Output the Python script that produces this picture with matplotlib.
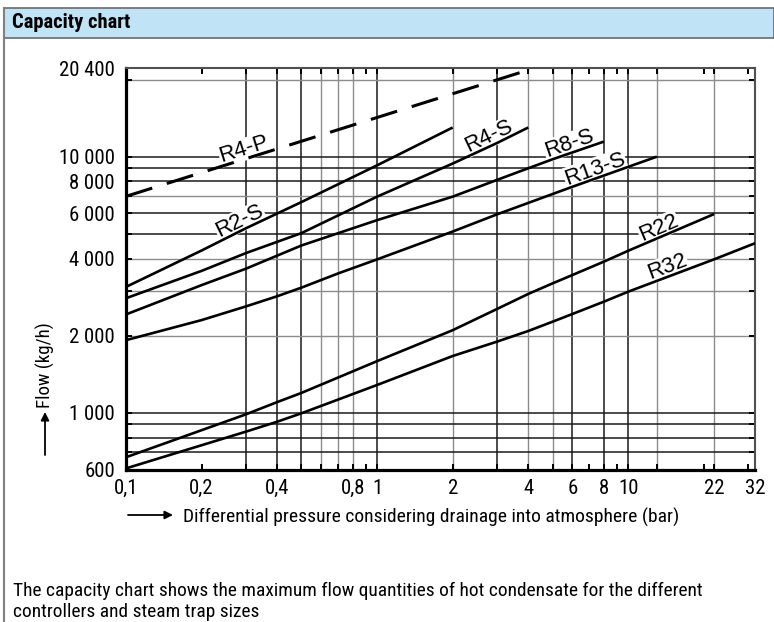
import numpy as np
import matplotlib
matplotlib.use('Agg')
import matplotlib.pyplot as plt
from matplotlib import font_manager
from matplotlib.ticker import FixedLocator, FixedFormatter, NullFormatter
from matplotlib.patches import Rectangle
from matplotlib.lines import Line2D

# ---------------- data ----------------
R4P_X = [0.1, 4]
R4P_Y = [7000, 21800]

R2S_X = [0.1, 0.2, 0.3, 0.5, 1, 2]
R2S_Y = [3100, 4300, 5250, 6650, 9250, 13000]

R4S_X = [0.1, 0.2, 0.3, 0.5, 1, 2, 3, 4]
R4S_Y = [2800, 3580, 4200, 5030, 6980, 9400, 11300, 13000]

R8S_X = [0.1, 0.2, 0.3, 0.5, 1, 2, 3, 4, 5, 8]
R8S_Y = [2420, 3150, 3650, 4500, 5650, 6980, 8110, 9010, 9770, 11450]

R13S_X = [0.1, 0.2, 0.3, 0.4, 0.5, 0.7, 1, 2, 3, 6, 13]
R13S_Y = [1920, 2300, 2600, 2850, 3080, 3500, 3970, 5100, 5950, 7630, 10000]

R22_X = [0.1, 0.3, 0.4, 0.5, 1, 2, 3, 4, 5, 6, 8, 10, 22]
R22_Y = [670, 985, 1100, 1195, 1590, 2100, 2540, 2910, 3200, 3450, 3890, 4290, 5970]

R32_X = [0.1, 0.3, 0.4, 0.5, 1, 2, 3, 4, 5, 6, 8, 10, 22, 32]
R32_Y = [606, 843, 922, 995, 1283, 1665, 1894, 2085, 2267, 2430, 2714, 2969, 3973, 4590]

LABELS = ["R4-P", "R2-S", "R4-S", "R8-S", "R13-S", "R22", "R32"]
LABEL_X = [0.3, 0.29, 2.85, 5.9, 7.5, 13.5, 14.6]

X_MIN, X_MAX = 0.1, 32
Y_MIN, Y_TOP = 600, 22140

X_TICKS = [0.1, 0.2, 0.4, 0.8, 1, 2, 4, 6, 8, 10, 22, 32]
X_TICK_LABELS = ["0,1", "0,2", "0,4", "0,8", "1", "2", "4", "6", "8", "10", "22", "32"]
X_MINOR = [0.3, 0.5, 0.6, 0.7, 0.9, 3, 5, 7, 9, 13, 20, 30]

Y_TICKS = [600, 1000, 2000, 4000, 6000, 8000, 10000, Y_TOP]
Y_TICK_LABELS = ["600", "1 000", "2 000", "4 000", "6 000", "8 000", "10 000", "20 400"]
Y_MINOR = [700, 800, 900, 3000, 5000, 7000, 9000, 20000]

GRID_X_DARK = [0.3, 0.4, 0.5, 1, 3, 6, 8, 10]
GRID_X_GRAY = [0.6, 0.7, 0.8, 2, 4, 5, 13, 22]
GRID_Y_DARK = [700, 800, 900, 1000, 5000, 6000, 8000, 9000, 10000]
GRID_Y_GRAY = [2000, 3000, 4000, 7000, 20000]

TITLE = "Capacity chart"
X_LABEL = "Differential pressure considering drainage into atmosphere (bar)"
Y_LABEL = "Flow (kg/h)"
NOTE_1 = "The capacity chart shows the maximum flow quantities of hot condensate for the different"
NOTE_2 = "controllers and steam trap sizes"

# ---------------- fonts ----------------
_installed = {f.name for f in font_manager.fontManager.ttflist}
_narrow_pref = ['Liberation Sans Narrow', 'Arial Narrow', 'Roboto Condensed',
                'Archivo Narrow', 'Open Sans Condensed', 'PT Sans Narrow']
NARROW = [n for n in _narrow_pref if n in _installed][:1] + ['Liberation Sans', 'DejaVu Sans']
FONT = ['Liberation Sans', 'DejaVu Sans']

# ---------------- figure ----------------
W, H = 774, 622
fig = plt.figure(figsize=(W / 100, H / 100), dpi=100)
renderer = fig.canvas.get_renderer()


def fx(px):
    return px / W


def fy(py):
    return 1 - py / H


def fit(t, target, vertical=False):
    bb = t.get_window_extent(renderer)
    size = bb.height if vertical else bb.width
    t.set_fontsize(t.get_fontsize() * target / size)


# outer frame and title bar
fig.add_artist(Line2D([fx(4), fx(4)], [fy(8), fy(622)], color='#808080', lw=1.5))
fig.add_artist(Rectangle((fx(4), fy(38)), fx(774) - fx(4), fy(8) - fy(38),
                         facecolor='#C0E4F6', edgecolor='#6a6a6a', lw=1.2))
t_title = fig.text(fx(12), fy(23), TITLE, fontsize=14, fontweight='bold', family=NARROW,
                   va='center', ha='left')
fit(t_title, 119)

ax = fig.add_axes([fx(126), fy(469.5), fx(755) - fx(126), fy(68.3) - fy(469.5)])
ax.set_xscale('log')
ax.set_yscale('log')
ax.set_xlim(X_MIN, X_MAX)
ax.set_ylim(Y_MIN, Y_TOP)

for v in GRID_X_DARK:
    ax.axvline(v, color='#1a1a1a', lw=1.1, zorder=1)
for v in GRID_X_GRAY:
    ax.axvline(v, color='#8c8c8c', lw=1.0, zorder=1)
for v in GRID_Y_DARK:
    ax.axhline(v, color='#1a1a1a', lw=1.1, zorder=1)
for v in GRID_Y_GRAY:
    ax.axhline(v, color='#8c8c8c', lw=1.0, zorder=1)

ax.plot(R4P_X, R4P_Y, color='black', lw=2.2, dashes=(9, 5), solid_capstyle='butt',
        dash_capstyle='butt', zorder=3)
curves = [(R2S_X, R2S_Y), (R4S_X, R4S_Y), (R8S_X, R8S_Y), (R13S_X, R13S_Y),
          (R22_X, R22_Y), (R32_X, R32_Y)]
for xs, ys in curves:
    ax.plot(xs, ys, color='black', lw=1.9, zorder=3, solid_capstyle='butt',
            solid_joinstyle='round')

# ticks
ax.xaxis.set_major_locator(FixedLocator(X_TICKS))
ax.xaxis.set_major_formatter(FixedFormatter(X_TICK_LABELS))
ax.xaxis.set_minor_locator(FixedLocator(X_MINOR))
ax.xaxis.set_minor_formatter(NullFormatter())
ax.yaxis.set_major_locator(FixedLocator(Y_TICKS))
ax.yaxis.set_major_formatter(FixedFormatter(Y_TICK_LABELS))
ax.yaxis.set_minor_locator(FixedLocator(Y_MINOR))
ax.yaxis.set_minor_formatter(NullFormatter())
ax.tick_params(which='both', direction='in', top=True, right=True, length=4, width=1.4,
               color='black')

# tick label size: fit "20 400" to its width in the reference
_probe = fig.text(0, 0, Y_TICK_LABELS[-1], fontsize=15, family=NARROW)
fit(_probe, 56)
TICK_FS = _probe.get_fontsize()
_probe.remove()

ax.tick_params(axis='x', which='major', pad=7, labelsize=TICK_FS)
ax.tick_params(axis='y', which='major', pad=8, labelsize=TICK_FS)
for lab in ax.get_xticklabels() + ax.get_yticklabels():
    lab.set_family(NARROW)

for s in ['left', 'bottom']:
    ax.spines[s].set_linewidth(2.3)
    ax.spines[s].set_color('black')
for s in ['top', 'right']:
    ax.spines[s].set_linewidth(1.5)
    ax.spines[s].set_color('#505050')

# curve labels
all_curves = [(R4P_X, R4P_Y)] + curves
for (xs, ys), text, xl in zip(all_curves, LABELS, LABEL_X):
    lx = np.log10(xs)
    ly = np.log10(ys)
    x0 = np.log10(xl)
    xa, xb = 10 ** (x0 - 0.08), 10 ** (x0 + 0.08)
    ya = 10 ** np.interp(np.log10(xa), lx, ly)
    yb = 10 ** np.interp(np.log10(xb), lx, ly)
    p = ax.transData.transform([(xa, ya), (xb, yb)])
    ang = np.degrees(np.arctan2(p[1, 1] - p[0, 1], p[1, 0] - p[0, 0]))
    yl = 10 ** np.interp(x0, lx, ly)
    ax.annotate(text, (xl, yl), xytext=(0, 3), textcoords='offset points',
                rotation=ang, rotation_mode='anchor', ha='center', va='baseline',
                fontsize=16, family=FONT, zorder=2.5,
                bbox=dict(facecolor='white', edgecolor='none', pad=0.5))

# axis labels with arrows
t_y = fig.text(fx(45), fy(365), Y_LABEL, rotation=90, fontsize=15, family=NARROW,
               ha='center', va='center')
fit(t_y, 86, vertical=True)
ax.annotate('', xy=(fx(45), fy(412)), xytext=(fx(45), fy(455)),
            xycoords='figure fraction', textcoords='figure fraction',
            arrowprops=dict(arrowstyle='-|>', color='black', lw=1.3,
                            mutation_scale=12, shrinkA=0, shrinkB=0))
ax.annotate('', xy=(fx(173), fy(515)), xytext=(fx(128), fy(515)),
            xycoords='figure fraction', textcoords='figure fraction',
            arrowprops=dict(arrowstyle='-|>', color='black', lw=1.3,
                            mutation_scale=12, shrinkA=0, shrinkB=0))
t_x = fig.text(fx(183), fy(517), X_LABEL, fontsize=15, family=NARROW, ha='left',
               va='center')
fit(t_x, 494)

t_n1 = fig.text(fx(13), fy(596), NOTE_1, fontsize=16, family=NARROW, ha='left',
                va='baseline')
fit(t_n1, 689)
fig.text(fx(13), fy(617), NOTE_2, fontsize=t_n1.get_fontsize(), family=NARROW,
         ha='left', va='baseline')

fig.savefig('out.png', dpi=100)
